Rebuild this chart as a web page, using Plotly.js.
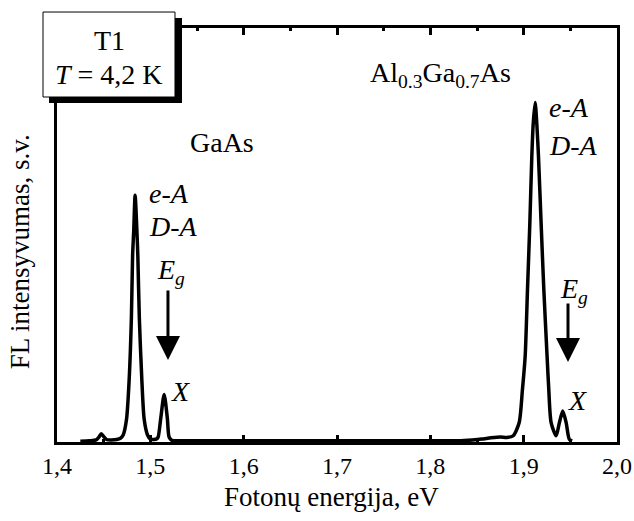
<!DOCTYPE html>
<html>
<head>
<meta charset="utf-8">
<script src="https://cdn.plot.ly/plotly-3.0.1.min.js"></script>
<style>html,body{margin:0;padding:0;background:#fff;}#chart{width:634px;height:521px;}</style>
</head>
<body>
<div id="chart"></div>
<script>
// Photon energy (eV) and PL intensity (arb. units)
const energy = [1.425, 1.435, 1.442, 1.445, 1.4475, 1.450, 1.453, 1.458, 1.464, 1.468,
  1.4709, 1.4745, 1.4773, 1.4797, 1.481, 1.4822, 1.4837, 1.4856, 1.4866, 1.4882,
  1.4909, 1.4934, 1.497, 1.500, 1.504, 1.507, 1.5084, 1.5112, 1.5148, 1.5182,
  1.5201, 1.523, 1.53, 1.55, 1.60, 1.65, 1.70, 1.75, 1.80, 1.83,
  1.845, 1.855, 1.865, 1.875, 1.882, 1.8888, 1.8952, 1.8987, 1.9016, 1.9041,
  1.9066, 1.9087, 1.9102, 1.9123, 1.9141, 1.9159, 1.9187, 1.9216, 1.9251, 1.9269,
  1.9294, 1.9348, 1.9383, 1.9419, 1.9455, 1.949, 1.952];
const intensity = [0.002, 0.003, 0.005, 0.012, 0.020, 0.013, 0.006, 0.005, 0.006, 0.009,
  0.017, 0.055, 0.15, 0.30, 0.45, 0.51, 0.596, 0.51, 0.45, 0.30,
  0.15, 0.055, 0.017, 0.007, 0.006, 0.008, 0.012, 0.058, 0.115, 0.058,
  0.012, 0.004, 0.003, 0.003, 0.003, 0.003, 0.003, 0.003, 0.003, 0.003,
  0.005, 0.007, 0.010, 0.012, 0.011, 0.015, 0.047, 0.127, 0.207, 0.368,
  0.528, 0.688, 0.768, 0.82, 0.768, 0.688, 0.528, 0.368, 0.207, 0.127,
  0.047, 0.015, 0.047, 0.075, 0.047, 0.006, 0.003];

const xTickVals = [1.4, 1.5, 1.6, 1.7, 1.8, 1.9, 2.0];
const xTickText = ["1,4", "1,5", "1,6", "1,7", "1,8", "1,9", "2,0"];

const FONT = "Liberation Serif";

const trace = {
  x: energy, y: intensity, type: "scatter", mode: "lines",
  line: {color: "#000", width: 3.5, shape: "spline", smoothing: 0.7},
  hoverinfo: "skip"
};

function txt(x, y, text, opts) {
  return Object.assign({x: x, y: y, xref: "x", yref: "y", text: text, showarrow: false,
    xanchor: "center", yanchor: "middle",
    font: {family: FONT, size: 28, color: "#000"}}, opts || {});
}
function ptxt(x, y, text, opts) {
  return Object.assign({x: x, y: y, xref: "paper", yref: "paper", text: text, showarrow: false,
    xanchor: "center", yanchor: "middle",
    font: {family: FONT, size: 28, color: "#000"}}, opts || {});
}

const layout = {
  width: 634, height: 521,
  margin: {l: 57, r: 17, t: 28, b: 79},
  paper_bgcolor: "#fff", plot_bgcolor: "#fff",
  showlegend: false,
  font: {family: FONT, color: "#000", size: 24},
  xaxis: {
    range: [1.4, 2.0], tickvals: xTickVals, ticktext: xTickText,
    ticks: "inside", ticklen: 7, tickwidth: 3, tickcolor: "#000",
    minor: {dtick: 0.05, tick0: 1.4, ticks: "inside", ticklen: 3, tickwidth: 3, tickcolor: "#000"},
    showline: true, linewidth: 3, linecolor: "#000", mirror: "ticks",
    showgrid: false, zeroline: false,
    tickfont: {family: FONT, size: 24, color: "#000"}
  },
  yaxis: {
    range: [0, 1], showticklabels: false, ticks: "",
    showline: true, linewidth: 3, linecolor: "#000", mirror: true,
    showgrid: false, zeroline: false
  },
  shapes: [
    {type: "rect", xref: "paper", yref: "paper", x0: -0.0143, x1: 0.2232, y0: 0.8188, y1: 1.0242,
      fillcolor: "#000", line: {width: 0}, layer: "above"},
    {type: "rect", xref: "paper", yref: "paper", x0: -0.025, x1: 0.2107, y0: 0.8333, y1: 1.0386,
      fillcolor: "#fff", line: {width: 1, color: "#000"}, layer: "above"}
  ],
  annotations: [
    ptxt(0.0929, 0.971, "T1"),
    ptxt(0.0929, 0.8865, "<i>T</i> = 4,2 K"),
    txt(1.5768, 0.7246, "GaAs"),
    txt(1.8104, 0.8865, "Al<sub>0.3</sub>Ga<sub>0.7</sub>As"),
    txt(1.4964, 0.6014, "<i>e-A</i>", {xanchor: "left"}),
    txt(1.4964, 0.5217, "<i>D-A</i>", {xanchor: "left"}),
    txt(1.925, 0.8068, "<i>e-A</i>", {xanchor: "left"}),
    txt(1.925, 0.7174, "<i>D-A</i>", {xanchor: "left"}),
    txt(1.5221, 0.413, "<i>E</i><sub><i>g</i></sub>"),
    txt(1.5318, 0.1208, "<i>X</i>"),
    txt(1.9539, 0.367, "<i>E</i><sub><i>g</i></sub>"),
    txt(1.9582, 0.1014, "<i>X</i>"),
    {x: 1.5189, y: 0.198, xref: "x", yref: "y", ax: 0, ay: -71, text: "", showarrow: true,
      arrowhead: 2, arrowsize: 1.6, arrowwidth: 3, arrowcolor: "#000", standoff: 0},
    {x: 1.9475, y: 0.193, xref: "x", yref: "y", ax: 0, ay: -60, text: "", showarrow: true,
      arrowhead: 2, arrowsize: 1.6, arrowwidth: 3, arrowcolor: "#000", standoff: 0},
    ptxt(0.491, -0.1329, "Fotonų energija, eV", {font: {family: FONT, size: 27, color: "#000"}}),
    ptxt(-0.0655, 0.459, "FL intensyvumas, s.v.", {textangle: -90, font: {family: FONT, size: 27, color: "#000"}})
  ]
};

Plotly.newPlot("chart", [trace], layout, {staticPlot: true, displayModeBar: false});
</script>
</body>
</html>
